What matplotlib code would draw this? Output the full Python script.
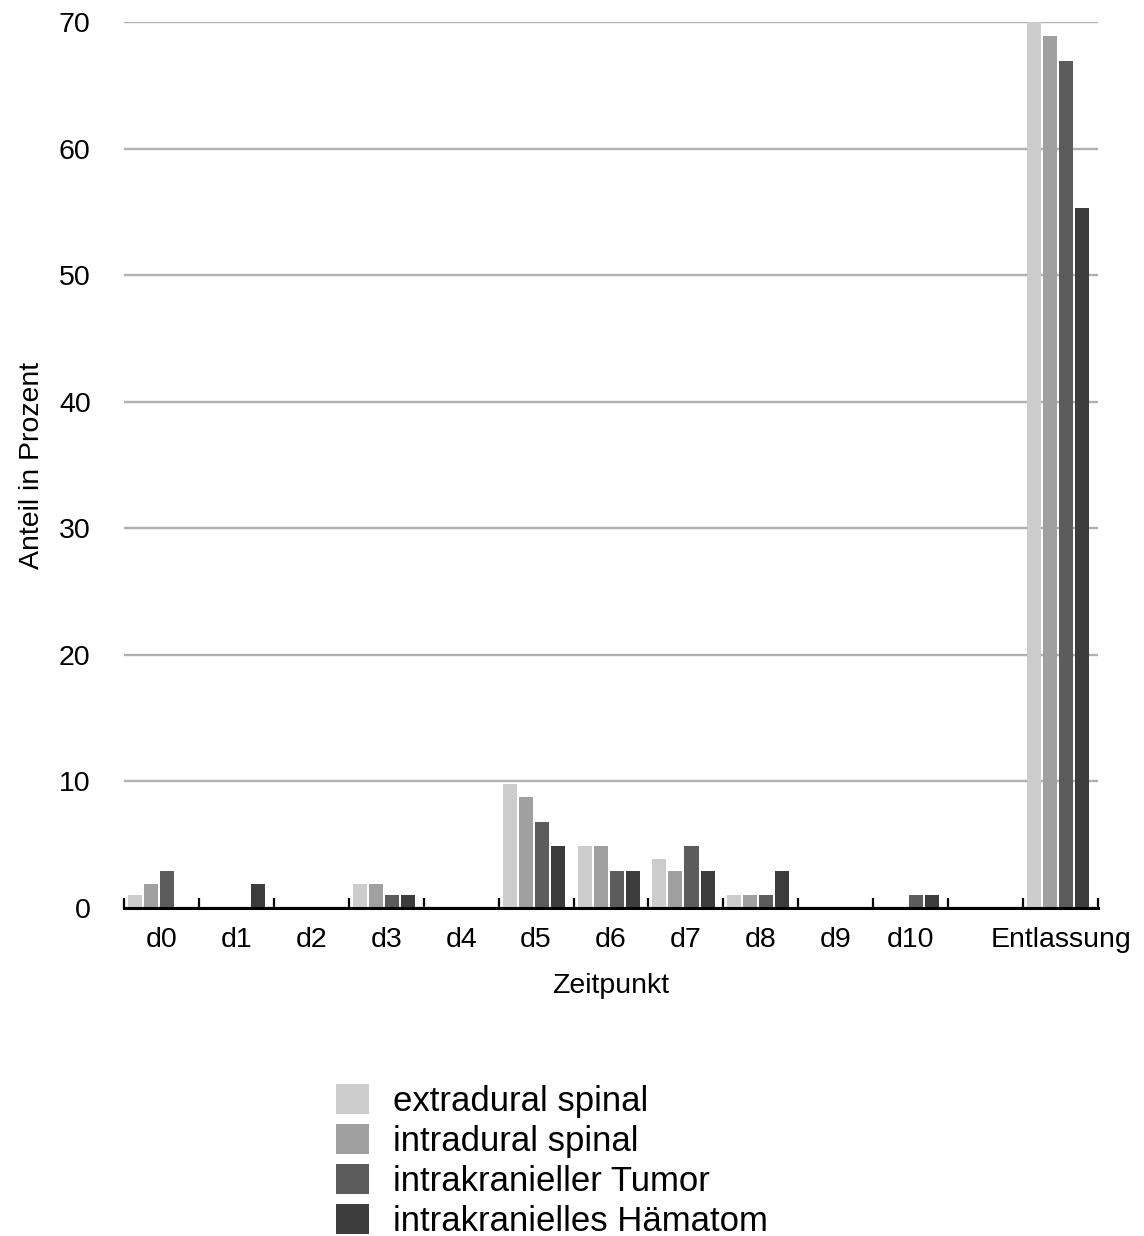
import numpy as np
import matplotlib
matplotlib.use("Agg")
import matplotlib.pyplot as plt

plt.rcParams['font.family'] = ['Liberation Sans', 'DejaVu Sans']

# categories (one unlabeled empty slot before Entlassung)
labels = ['d0', 'd1', 'd2', 'd3', 'd4', 'd5', 'd6', 'd7', 'd8', 'd9', 'd10', '', 'Entlassung']

extradural = [1.0, 0, 0, 1.9, 0, 9.8, 4.9, 3.9, 1.0, 0, 0, 0, 70.0]
intradural = [1.9, 0, 0, 1.9, 0, 8.8, 4.9, 2.9, 1.0, 0, 0, 0, 68.9]
tumor = [2.9, 0, 0, 1.0, 0, 6.8, 2.9, 4.9, 1.0, 0, 1.0, 0, 66.9]
haematom = [0, 1.9, 0, 1.0, 0, 4.9, 2.9, 2.9, 2.9, 0, 1.0, 0, 55.3]

series = [extradural, intradural, tumor, haematom]
names = ['extradural spinal', 'intradural spinal', 'intrakranieller Tumor', 'intrakranielles Hämatom']
colors = ['#cbcccb', '#9fa09f', '#5b5c5b', '#3b3c3b']

W, H = 1144, 1236
fig = plt.figure(figsize=(W / 100, H / 100), dpi=100)
ax = fig.add_axes([124 / W, 1 - 908 / H, (1098 - 124) / W, (908 - 22) / H])

x = np.arange(len(labels))
bw = 0.187
step = 0.214
off = 0.053
for j, (vals, name, c) in enumerate(zip(series, names, colors)):
    ax.bar(x + off + j * step, vals, width=bw, align='edge', color=c,
           label=name, zorder=3, linewidth=0)

ax.set_xlim(0, len(labels))
ax.set_ylim(0, 70)
ax.set_yticks(range(0, 71, 10))
ax.yaxis.grid(True, color='#b0b0b0', linewidth=1.7, zorder=0)
ax.set_axisbelow(True)

ax.set_xticks(x + 0.5)
ax.set_xticklabels(labels)
ax.set_xticks(np.arange(len(labels) + 1), minor=True)
ax.tick_params(axis='x', which='major', length=0, labelsize=20.5, pad=14)
ax.tick_params(axis='x', which='minor', direction='in', length=7, width=1.6, color='black')
ax.tick_params(axis='y', length=0, labelsize=20.5, pad=24)

for s in ['top', 'right', 'left']:
    ax.spines[s].set_visible(False)
ax.spines['bottom'].set_linewidth(2.2)
ax.spines['bottom'].set_zorder(4)

ax.set_xlabel('Zeitpunkt', fontsize=20.5, labelpad=14)
ax.set_ylabel('Anteil in Prozent', fontsize=20.5)
ax.yaxis.set_label_coords((45 - 124) / (1098 - 124), 0.5)

fig.legend(loc='upper left', bbox_to_anchor=(322 / W, 1 - 1070 / H), frameon=False,
           fontsize=25, handlelength=0.95, handleheight=0.95, handletextpad=0.7,
           labelspacing=0.18, borderaxespad=0)

fig.savefig('out.png', dpi=100)
